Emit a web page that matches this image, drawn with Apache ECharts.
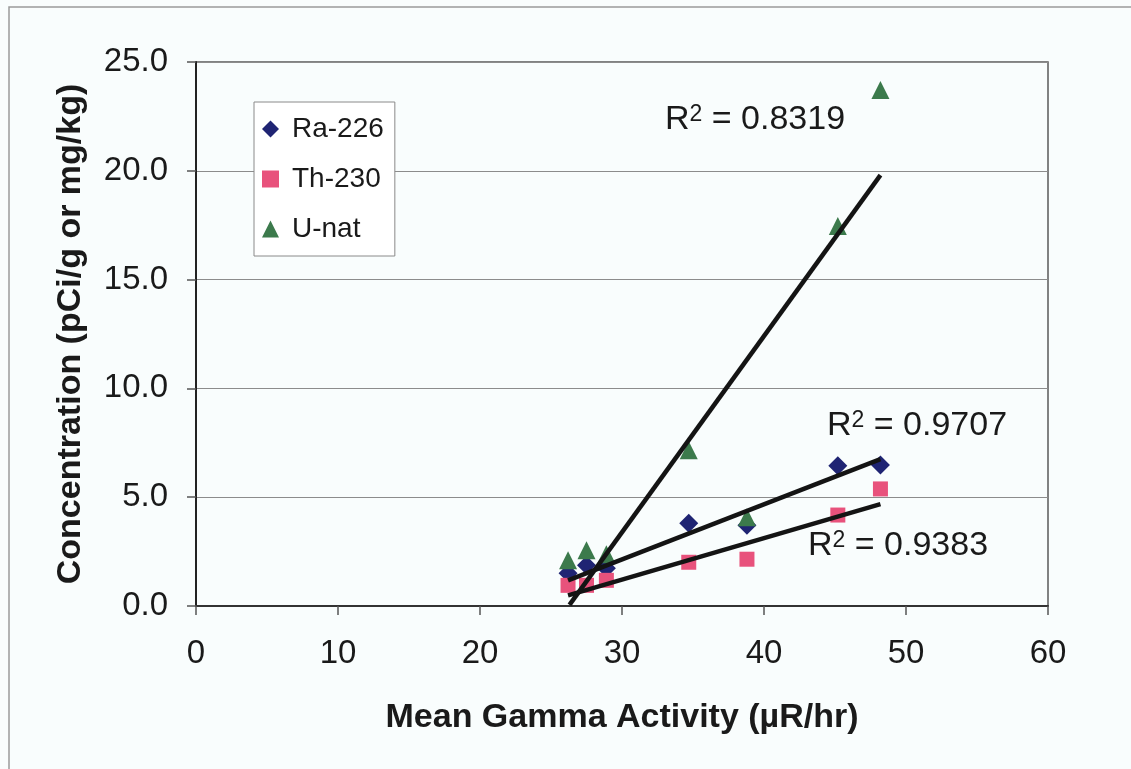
<!DOCTYPE html>
<html>
<head>
<meta charset="utf-8">
<script src="https://cdn.jsdelivr.net/npm/echarts@6/dist/echarts.min.js"></script>
<style>
  html, body { margin: 0; padding: 0; background: #f9fdfd; }
  #chart { width: 1131px; height: 769px; }
</style>
</head>
<body>
<div id="chart"></div>
<script>
// mean gamma activity (uR/hr) for each sample
let gamma = [26.2, 27.5, 28.9, 34.7, 38.8, 45.2, 48.2];
let ra226 = [1.50, 1.87, 1.73, 3.80, 3.71, 6.45, 6.48];
let th230 = [0.95, 0.95, 1.18, 2.01, 2.15, 4.18, 5.38];
let unat = [2.10, 2.56, 2.38, 7.16, 4.08, 17.46, 23.71];

// linear trendline ends as drawn in the original
let raTrend = [[26.2, 1.18], [48.2, 6.75]];
let thTrend = [[26.2, 0.49], [48.2, 4.68]];
let uTrend = [[26.3, 0.05], [48.2, 19.8]];

let names = ['Ra-226', 'Th-230', 'U-nat'];
let r2 = ['0.8319', '0.9707', '0.9383'];

function pairs(xs, ys) {
    return xs.map(function (x, i) { return [x, ys[i]]; });
}

let font = 'Liberation Sans, Arial, sans-serif';

function r2Text(val, x, y) {
    return {
        type: 'text',
        x: x,
        y: y,
        z: 100,
        style: {
            text: '{r|R}{s|2}{r| = ' + val + '}',
            verticalAlign: 'middle',
            rich: {
                r: { fontFamily: font, fontSize: 34, fill: '#1a1a1a', lineHeight: 34 },
                s: { fontFamily: font, fontSize: 23, fill: '#1a1a1a', verticalAlign: 'top', lineHeight: 22 }
            }
        }
    };
}

let trendLine = {
    type: 'line',
    symbol: 'none',
    silent: true,
    z: 5,
    lineStyle: { color: '#141414', width: 4.5 }
};

let option = {
    backgroundColor: '#f9fdfd',
    animation: false,
    textStyle: { fontFamily: font },
    grid: {
        left: 196,
        right: 83,
        top: 62,
        bottom: 163,
        show: true,
        borderColor: '#5a5a5a',
        borderWidth: 1.5,
        outerBoundsMode: 'none'
    },
    legend: {
        orient: 'vertical',
        left: 254,
        top: 102,
        padding: [13, 11, 13, 8],
        itemWidth: 17,
        itemHeight: 17,
        itemGap: 22,
        backgroundColor: '#ffffff',
        borderColor: '#8a8a8a',
        borderWidth: 1,
        borderRadius: 0,
        textStyle: { fontFamily: font, fontSize: 28, color: '#1a1a1a', padding: [0, 0, 0, 8] },
        data: [
            { name: names[0], icon: 'diamond' },
            { name: names[1], icon: 'rect' },
            { name: names[2], icon: 'triangle' }
        ]
    },
    xAxis: {
        type: 'value',
        min: 0,
        max: 60,
        interval: 10,
        name: 'Mean Gamma Activity (µR/hr)',
        nameLocation: 'middle',
        nameGap: 95,
        nameTextStyle: { fontFamily: font, fontSize: 34, fontWeight: 'bold', color: '#1a1a1a' },
        axisLine: { onZero: false, lineStyle: { color: '#333', width: 2 } },
        axisTick: { show: true, length: 9, lineStyle: { color: '#555', width: 1.5 } },
        axisLabel: { fontFamily: font, fontSize: 33, color: '#1a1a1a', margin: 31 },
        splitLine: { show: false }
    },
    yAxis: {
        type: 'value',
        min: 0,
        max: 25,
        interval: 5,
        name: 'Concentration (pCi/g or mg/kg)',
        nameLocation: 'middle',
        nameGap: 108,
        nameTextStyle: { fontFamily: font, fontSize: 34, fontWeight: 'bold', color: '#1a1a1a' },
        axisLine: { show: true, onZero: false, lineStyle: { color: '#222', width: 2 } },
        axisTick: { show: true, length: 9, lineStyle: { color: '#555', width: 1.5 } },
        axisLabel: {
            fontFamily: font, fontSize: 33, color: '#1a1a1a', margin: 28,
            formatter: function (v) { return v.toFixed(1); }
        },
        splitLine: { show: true, lineStyle: { color: '#8c8c8c', width: 1 } }
    },
    series: [
        {
            name: names[0],
            type: 'scatter',
            symbol: 'diamond',
            symbolSize: 19,
            itemStyle: { color: '#1f2473', opacity: 1 },
            data: pairs(gamma, ra226)
        },
        {
            name: names[1],
            type: 'scatter',
            symbol: 'rect',
            symbolSize: 15,
            itemStyle: { color: '#e8527c', opacity: 1 },
            data: pairs(gamma, th230)
        },
        {
            name: names[2],
            type: 'scatter',
            symbol: 'triangle',
            symbolSize: 18,
            itemStyle: { color: '#3c7a4c', opacity: 1 },
            data: pairs(gamma, unat)
        },
        Object.assign({ name: 'Ra trend', data: raTrend }, trendLine),
        Object.assign({ name: 'Th trend', data: thTrend }, trendLine),
        Object.assign({ name: 'U trend', data: uTrend }, trendLine)
    ],
    graphic: [
        {
            type: 'rect',
            silent: true,
            shape: { x: 9, y: 7, width: 1200, height: 900 },
            style: { fill: 'none', stroke: '#9a9a9a', lineWidth: 1.5 }
        },
        r2Text(r2[0], 665, 120),
        r2Text(r2[1], 827, 426),
        r2Text(r2[2], 808, 546)
    ]
};

var chart = echarts.init(document.getElementById('chart'));
chart.setOption(option);
</script>
</body>
</html>
